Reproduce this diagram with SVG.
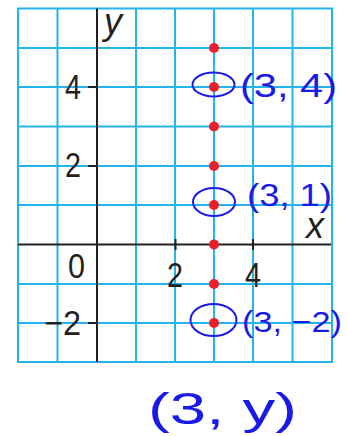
<svg xmlns="http://www.w3.org/2000/svg" width="347" height="436" viewBox="0 0 347 436">
<style>
.grid{stroke:#22b4ee;stroke-width:2;fill:none}
.axis{stroke:#231f20;stroke-width:2;fill:none}
.num{font-family:"Liberation Sans",Arial,sans-serif;font-size:35px;fill:#231f20}
.var{font-family:"Liberation Sans",Arial,sans-serif;font-size:36px;font-style:italic;fill:#231f20}
.dot{fill:#e8202a}
.hand{font-family:"Liberation Sans",Arial,sans-serif;fill:#1a1ae6}
.ring{fill:none;stroke:#1a1ae6;stroke-width:2}
</style>
<rect width="347" height="436" fill="#ffffff"/>
<g id="grid">
<rect class="grid" x="18" y="8.5" width="314" height="353.5"/>
<path class="grid" d="M57.5 8.5V362M136 8.5V362M175 8.5V362M214 8.5V362M253 8.5V362M292.5 8.5V362M18 48H332M18 87H332M18 126.5H332M18 166H332M18 205H332M18 284H332M18 323H332"/>
</g>
<g id="axes">
<path class="axis" d="M97 8.5V362M18 244.5H331"/>
<path class="axis" d="M88 87H97M88 166H97M88 323H97M175.5 239V250M253 239V250"/>
<text class="var" x="104" y="34">y</text>
<text class="var" x="306" y="238">x</text>
<text class="num" x="81" y="99" text-anchor="end" textLength="16" lengthAdjust="spacingAndGlyphs">4</text>
<text class="num" x="81" y="177" text-anchor="end" textLength="16" lengthAdjust="spacingAndGlyphs">2</text>
<text class="num" x="68" y="278" textLength="17" lengthAdjust="spacingAndGlyphs">0</text>
<text class="num" x="44" y="335" textLength="37" lengthAdjust="spacingAndGlyphs">−2</text>
<text class="num" x="167" y="287" textLength="16" lengthAdjust="spacingAndGlyphs">2</text>
<text class="num" x="245" y="287" textLength="16" lengthAdjust="spacingAndGlyphs">4</text>
</g>
<g id="points">
<circle class="dot" cx="214" cy="48" r="5"/>
<circle class="dot" cx="214" cy="87" r="5"/>
<circle class="dot" cx="214" cy="126.5" r="5"/>
<circle class="dot" cx="214" cy="166" r="5"/>
<circle class="dot" cx="214" cy="205" r="5"/>
<circle class="dot" cx="214" cy="244.5" r="5"/>
<circle class="dot" cx="214" cy="284" r="5"/>
<circle class="dot" cx="214" cy="323" r="5"/>
</g>
<g id="annotations">
<ellipse class="ring" cx="213.5" cy="84.5" rx="21" ry="12"/>
<ellipse class="ring" cx="214" cy="202" rx="21" ry="14"/>
<ellipse class="ring" cx="213.5" cy="320" rx="23" ry="16"/>
<text class="hand" x="240" y="97" font-size="34" textLength="97" lengthAdjust="spacingAndGlyphs">(3, 4)</text>
<text class="hand" x="247" y="206" font-size="31" textLength="85" lengthAdjust="spacingAndGlyphs">(3, 1)</text>
<text class="hand" x="242" y="332" font-size="30" textLength="100" lengthAdjust="spacingAndGlyphs">(3, −2)</text>
<text class="hand" x="148" y="424" font-size="44" textLength="149" lengthAdjust="spacingAndGlyphs">(3, y)</text>
</g>
</svg>
